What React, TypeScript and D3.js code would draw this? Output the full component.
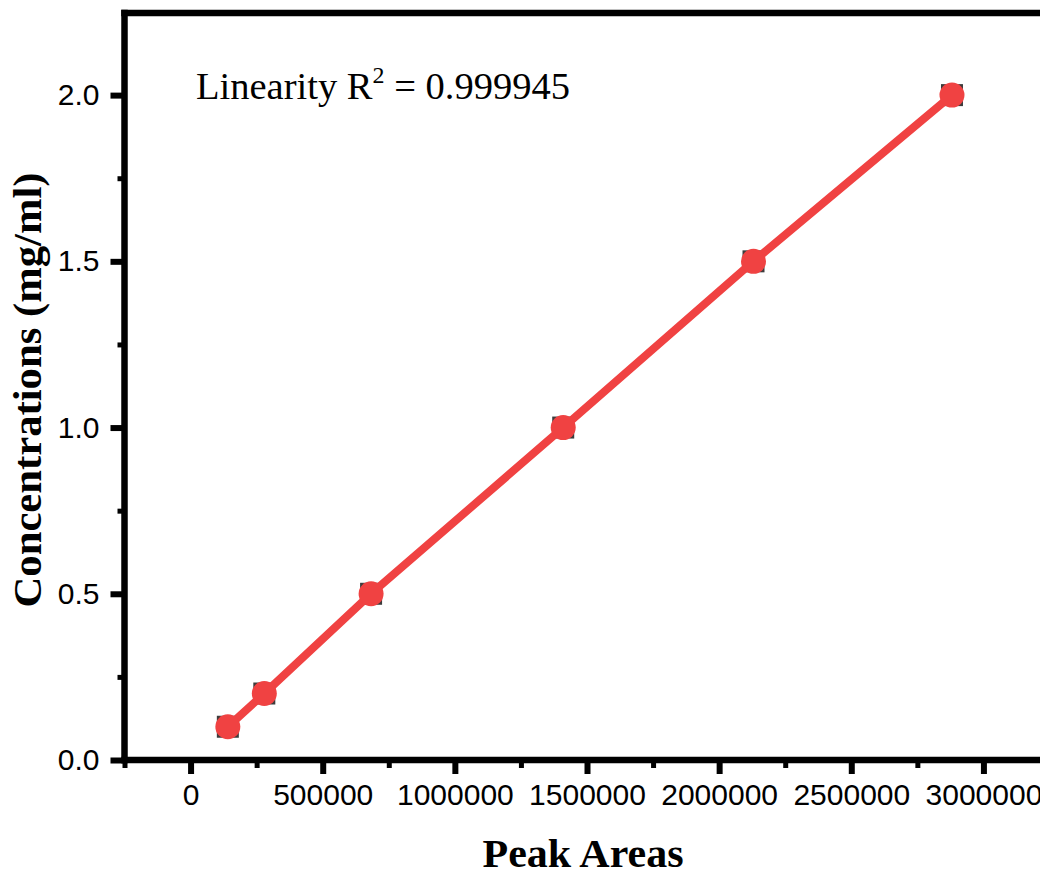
import React, { useEffect, useRef } from 'react';
import * as d3 from 'd3';

// calibration points
const peakAreas = [141000, 279000, 683000, 1410000, 2130000, 2881000];
const concentrations = [0.1, 0.2, 0.5, 1.0, 1.5, 2.0];

const xMajorTicks = [0, 500000, 1000000, 1500000, 2000000, 2500000, 3000000];
const xMinorTicks = [-250000, 250000, 750000, 1250000, 1750000, 2250000, 2750000, 3250000];
const yMajorTicks = [0, 0.5, 1.0, 1.5, 2.0];
const yMinorTicks = [0.25, 0.75, 1.25, 1.75];

const RED = '#f04242';
const GRAY = '#3c3c3c';
const SERIF = '"Liberation Serif", "Times New Roman", serif';

const App = () => {
  const ref = useRef<SVGSVGElement>(null);

  useEffect(() => {
    const svg = d3.select(ref.current);
    svg.selectAll('*').remove();

    const left = 124.5, right = 1049.5, top = 12, bottom = 760;

    const x = d3.scaleLinear().domain([-250000, 3250000]).range([left, right]);
    const y = d3.scaleLinear().domain([0, 2.25]).range([bottom, top]);

    const data = peakAreas.map((a, i) => ({ a, c: concentrations[i] }));

    // ticks
    const styleAxis = (g: any, w: number) => {
      g.select('.domain').remove();
      g.selectAll('.tick line').attr('stroke', '#000').attr('stroke-width', w);
      g.selectAll('.tick text')
        .attr('fill', '#000')
        .attr('font-family', '"Liberation Sans", Arial, sans-serif')
        .attr('font-size', 30);
    };

    svg.append('g')
      .attr('transform', `translate(0,${bottom})`)
      .call(d3.axisBottom(x).tickValues(xMinorTicks).tickFormat(() => '').tickSize(8).tickSizeOuter(0))
      .call((g: any) => styleAxis(g, 5));

    svg.append('g')
      .attr('transform', `translate(0,${bottom})`)
      .call(d3.axisBottom(x).tickValues(xMajorTicks).tickFormat(d3.format('d')).tickSize(14).tickPadding(10).tickSizeOuter(0))
      .call((g: any) => styleAxis(g, 6));

    svg.append('g')
      .attr('transform', `translate(${left},0)`)
      .call(d3.axisLeft(y).tickValues(yMinorTicks).tickFormat(() => '').tickSize(7).tickSizeOuter(0))
      .call((g: any) => styleAxis(g, 5));

    svg.append('g')
      .attr('transform', `translate(${left},0)`)
      .call(d3.axisLeft(y).tickValues(yMajorTicks).tickFormat(d3.format('.1f')).tickSize(14).tickPadding(11).tickSizeOuter(0))
      .call((g: any) => styleAxis(g, 6));

    // frame
    const frame = svg.append('g')
      .attr('stroke', '#000')
      .attr('stroke-width', 6.5)
      .attr('stroke-linecap', 'square')
      .attr('fill', 'none');
    frame.append('line').attr('x1', left).attr('x2', left).attr('y1', top + 1).attr('y2', bottom);
    frame.append('line').attr('x1', left).attr('x2', right).attr('y1', top + 1).attr('y2', top + 1);
    frame.append('line').attr('x1', left).attr('x2', right).attr('y1', bottom).attr('y2', bottom);
    frame.append('line').attr('x1', right).attr('x2', right).attr('y1', top + 1).attr('y2', bottom);

    // markers + line
    svg.append('g').selectAll('rect')
      .data(data)
      .enter().append('rect')
      .attr('x', d => x(d.a) - 11)
      .attr('y', d => y(d.c) - 11)
      .attr('width', 22)
      .attr('height', 22)
      .attr('fill', GRAY);

    const line = d3.line<{ a: number; c: number }>()
      .x(d => x(d.a))
      .y(d => y(d.c));

    svg.append('path')
      .datum(data)
      .attr('d', line)
      .attr('fill', 'none')
      .attr('stroke', RED)
      .attr('stroke-width', 8);

    svg.append('g').selectAll('circle')
      .data(data)
      .enter().append('circle')
      .attr('cx', d => x(d.a))
      .attr('cy', d => y(d.c))
      .attr('r', 12.5)
      .attr('fill', RED);

    // annotation
    const note = svg.append('text')
      .attr('x', 196)
      .attr('y', 99)
      .attr('font-family', SERIF)
      .attr('font-size', 37)
      .attr('fill', '#000')
      .attr('textLength', 374)
      .attr('lengthAdjust', 'spacingAndGlyphs');
    note.append('tspan').text('Linearity R');
    note.append('tspan').attr('font-size', 23).attr('dy', -16).text('2');
    note.append('tspan').attr('dy', 16).text(' = 0.999945');

    // axis titles
    svg.append('text')
      .attr('x', 583)
      .attr('y', 867)
      .attr('text-anchor', 'middle')
      .attr('font-family', SERIF)
      .attr('font-weight', 'bold')
      .attr('font-size', 40)
      .attr('textLength', 201)
      .attr('lengthAdjust', 'spacingAndGlyphs')
      .text('Peak Areas');

    svg.append('text')
      .attr('transform', `translate(41,390) rotate(-90)`)
      .attr('text-anchor', 'middle')
      .attr('font-family', SERIF)
      .attr('font-weight', 'bold')
      .attr('font-size', 41)
      .attr('textLength', 435)
      .attr('lengthAdjust', 'spacingAndGlyphs')
      .text('Concentrations (mg/ml)');
  }, []);

  return (
    <svg
      ref={ref}
      width={1040}
      height={876}
      style={{ position: 'absolute', left: 0, top: 0, background: '#fff' }}
    />
  );
};

export default App;
